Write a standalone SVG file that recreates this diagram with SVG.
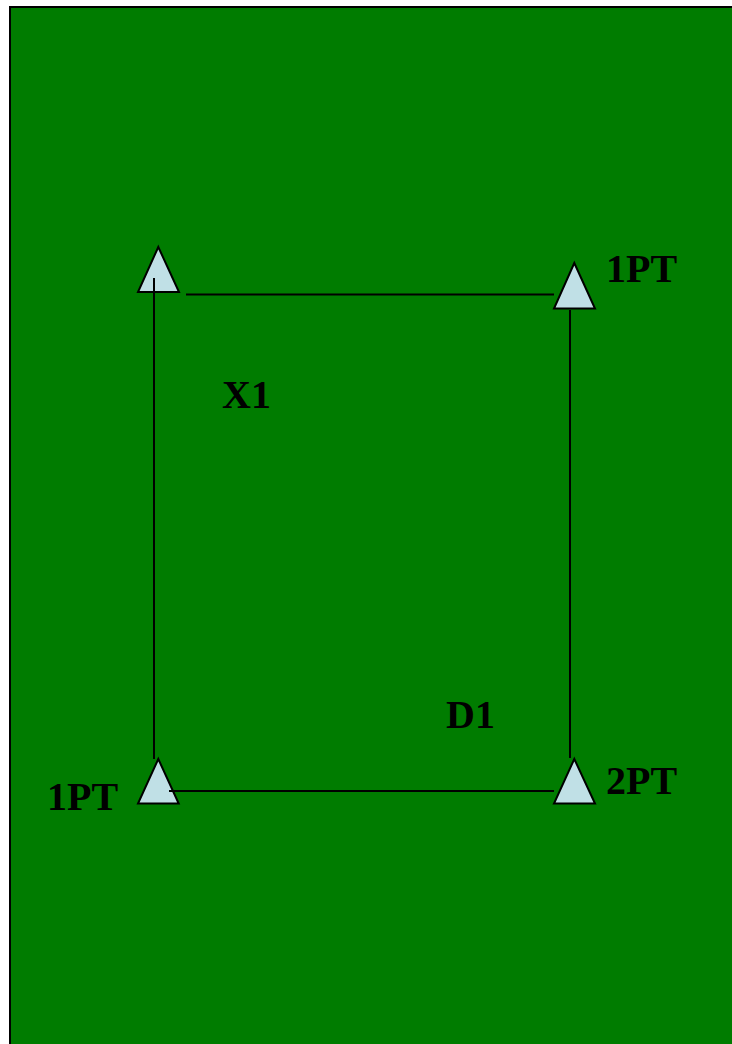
<svg xmlns="http://www.w3.org/2000/svg" width="732" height="1044" viewBox="0 0 732 1044">
<style>
.tri{fill:#c0e0e6;stroke:#000;stroke-width:2;stroke-linejoin:miter}
.ln{stroke:#000;stroke-width:2;fill:none}
.lbl{font-family:"Liberation Serif","Times New Roman",serif;font-weight:bold;font-size:40px;fill:#000}
</style>
<rect x="0" y="0" width="732" height="1044" fill="#fff"/>
<rect x="10" y="7" width="730" height="1045" fill="#007c00" stroke="#000" stroke-width="2"/>
<g id="node-tl"><polygon class="tri" points="158.3,247 138,292 179,292"/></g>
<g id="node-tr"><polygon class="tri" points="574.3,263 554,308.5 595,308.5"/><text class="lbl" x="606" y="282">1PT</text></g>
<g id="node-bl"><polygon class="tri" points="158.3,759 138,803.5 178.7,803.5"/><text class="lbl" x="47" y="810">1PT</text></g>
<g id="node-br"><polygon class="tri" points="574.3,759 554,803.5 595,803.5"/><text class="lbl" x="606" y="794">2PT</text></g>
<g id="label-x1"><text class="lbl" x="222" y="408">X1</text></g>
<g id="label-d1"><text class="lbl" x="446" y="728">D1</text></g>
<g id="connectors">
<line class="ln" x1="154" y1="278" x2="154" y2="759"/>
<line class="ln" x1="570" y1="310" x2="570" y2="758"/>
<line class="ln" x1="186" y1="294.5" x2="554" y2="294.5"/>
<line class="ln" x1="169" y1="791" x2="554" y2="791"/>
</g>
</svg>
